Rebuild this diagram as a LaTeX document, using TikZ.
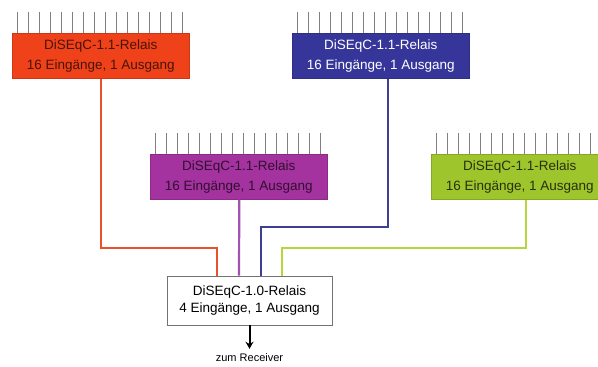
\documentclass[tikz,border=0pt]{standalone}
\usepackage{fontspec}
\setmainfont{Liberation Sans}
\usetikzlibrary{arrows.meta}

% 色の定義
\definecolor{rot}{HTML}{F0421A}
\definecolor{blau}{HTML}{36369A}
\definecolor{lila}{HTML}{A4329F}
\definecolor{gruen}{HTML}{9EC52C}
\definecolor{rotdraht}{HTML}{E8502E}
\definecolor{blaudraht}{HTML}{3E3E92}
\definecolor{liladraht}{HTML}{A452B2}
\definecolor{gruendraht}{HTML}{B6D63E}

\begin{document}
\begin{tikzpicture}[x=1pt, y=-1pt,
    relais/.style={fill=#1, draw=#1!85!black, line width=0.6pt,
        minimum width=177pt, minimum height=45pt, inner sep=0pt,
        anchor=north west, align=center,
        font=\fontsize{13.5}{20}\selectfont},
    anschluss/.style={draw=black!50, line width=0.9pt},
    draht/.style={draw=#1, line width=2.2pt},
    empfang/.style={draw=black!55, fill=white, line width=0.8pt,
        minimum width=165pt, minimum height=49pt, inner sep=0pt,
        align=center, font=\fontsize{13.5}{17}\selectfont}]
    % 画像の範囲
    \clip (0,0) rectangle (598,367);
    \fill[white] (0,0) rectangle (598,367);

    % 16入力のリレー
    \node[relais=rot, text=rot!30!black] (rot) at (12,33) {DiSEqC-1.1-Relais\\16 Eingänge, 1 Ausgang};
    \node[relais=blau, text=white] (blau) at (292,33) {DiSEqC-1.1-Relais\\16 Eingänge, 1 Ausgang};
    \node[relais=lila, text=lila!30!black] (lila) at (150,154) {DiSEqC-1.1-Relais\\16 Eingänge, 1 Ausgang};
    \node[relais=gruen, text=gruen!25!black] (gruen) at (431,154) {DiSEqC-1.1-Relais\\16 Eingänge, 1 Ausgang};

    % 入力端子
    \foreach \b in {rot,blau,lila,gruen}{
        \foreach \i in {0,...,15}{
            \draw[anschluss] ([xshift={5pt+\i*11pt}]\b.north west) -- ++(0,-21);
        }
    }

    % 4入力のリレーと受信機
    \node[empfang] (dic) at (249.5,300.5) {DiSEqC-1.0-Relais\\4 Eingänge, 1 Ausgang};
    \node[font=\fontsize{11}{13}\selectfont, inner sep=1pt] (ziel) at (249.5,358) {zum Receiver};

    % 配線
    \draw[draht=rotdraht] (rot.south) |- (217,248) -- ([xshift=-32.5pt]dic.north);
    \draw[draht=liladraht] ([xshift=0.5pt]lila.south) -- ([xshift=-10.5pt]dic.north);
    \draw[draht=blaudraht] ([xshift=7.5pt]blau.south) |- (261,227) -- ([xshift=11.5pt]dic.north);
    \draw[draht=gruendraht] ([xshift=6pt]gruen.south) |- (282,248) -- ([xshift=32.5pt]dic.north);

    % 出力
    \draw[line width=2pt, -{Stealth[length=7pt, width=8pt]}, shorten >=4pt] (dic.south) -- (ziel.north);
\end{tikzpicture}
\end{document}
